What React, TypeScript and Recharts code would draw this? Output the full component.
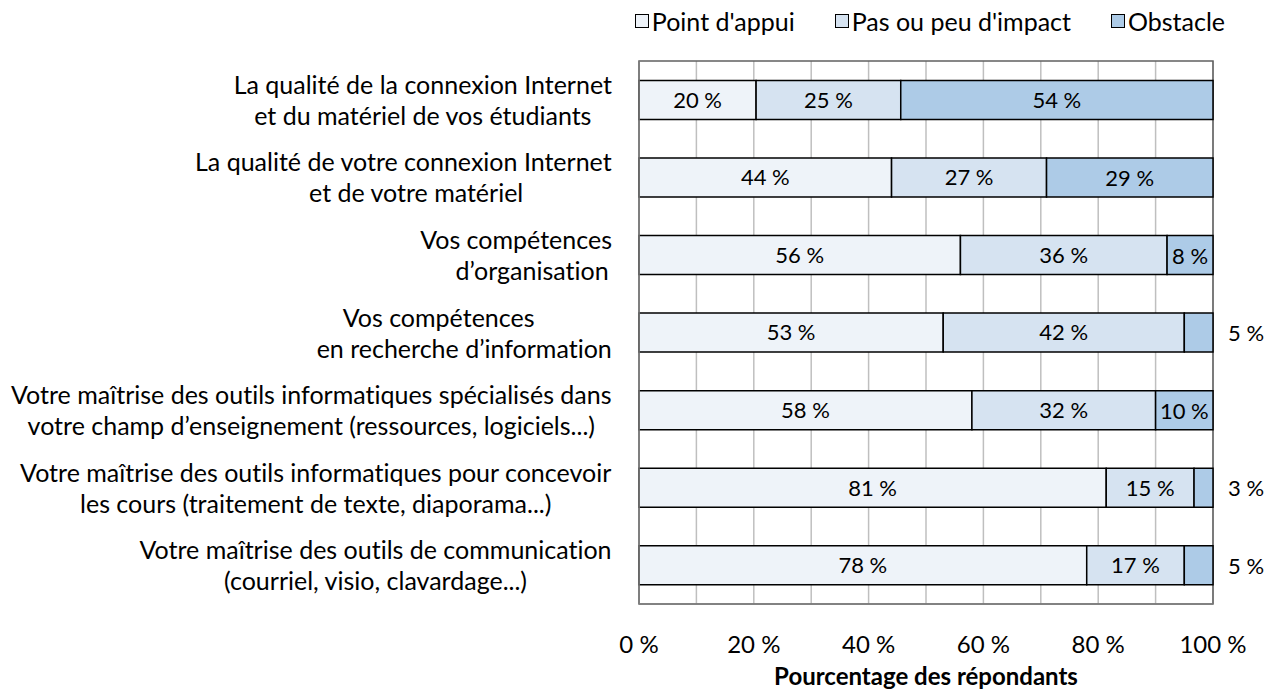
import { BarChart, Bar, XAxis, YAxis, CartesianGrid, Legend, LabelList, ReferenceArea } from 'recharts'

const FONT = 'Lato, "Noto Sans", sans-serif'
const CAT_SIZE = 25
const VAL_SIZE = 22
const TICK_SIZE = 24
const LEGEND_SIZE = 25
const TITLE_SIZE = 24

const NB = '\u00a0'

// category labels, two lines each (manual breaks and padding as in the source chart)
const CATEGORY_LINES: string[][] = [
  ['La qualité de la connexion Internet', 'et du matériel de vos étudiants'],
  ['La qualité de votre connexion Internet', NB.repeat(4) + 'et de votre matériel'],
  ['Vos compétences', NB.repeat(5) + 'd’organisation'],
  ['Vos compétences' + NB.repeat(8), 'en recherche d’information'],
  ['Votre maîtrise des outils informatiques spécialisés dans', 'votre champ d’enseignement (ressources, logiciels...)'],
  ['Votre maîtrise des outils informatiques pour concevoir', 'les cours (traitement de texte, diaporama...)'],
  ['Votre maîtrise des outils de communication', '(courriel, visio, clavardage...)'],
]

const SERIES_NAMES = ["Point d'appui", "Pas ou peu d'impact", 'Obstacle']
const POINT_APPUI = [20.4, 44, 56, 53, 58, 81.4, 78]
const PAS_IMPACT = [25.2, 27, 36, 42, 32, 15.3, 17]
const OBSTACLE = [54.4, 29, 8, 5, 10, 3.3, 5]

const GRID_TICKS = [0, 10, 20, 30, 40, 50, 60, 70, 80, 90, 100]

const COLORS = ['#EEF3F9', '#D6E3F1', '#ADCBE7']

const data = CATEGORY_LINES.map((lines, i) => ({
  name: lines.join('\n'),
  appui: POINT_APPUI[i],
  pas: PAS_IMPACT[i],
  obstacle: OBSTACLE[i],
}))

let measureCtx: CanvasRenderingContext2D | null = null
function textWidth(s: string): number {
  if (!measureCtx) measureCtx = document.createElement('canvas').getContext('2d')
  if (!measureCtx) return s.length * CAT_SIZE * 0.5
  measureCtx.font = `${CAT_SIZE}px ${FONT}`
  return measureCtx.measureText(s).width
}

function CategoryTick(props: any) {
  const { x, y, payload } = props
  const lines: string[] = String(payload.value).split('\n')
  const maxW = Math.max(...lines.map(textWidth))
  const cx = x - 27 - maxW / 2
  return (
    <g>
      {lines.map((l, i) => (
        <text key={i} x={cx} y={y - 6 + i * 31} textAnchor="middle" fontSize={CAT_SIZE} fill="#000">
          {l}
        </text>
      ))}
    </g>
  )
}

const pct = (v: any) => `${Math.round(Number(v))} %`

// small obstacle shares get their label outside the bar, on the right
function ObstacleLabel(props: any) {
  const { x, y, width, height, value } = props
  const small = Number(value) < 6
  return (
    <text
      x={small ? x + width + 15 : x + width / 2}
      y={y + height / 2}
      textAnchor={small ? 'start' : 'middle'}
      dominantBaseline="central"
      fontSize={VAL_SIZE}
      fill="#000"
    >
      {pct(value)}
    </text>
  )
}

// zero-height wrapper so the legend doesn't push the plot down
function LegendBox() {
  return (
    <div style={{ height: 0, overflow: 'visible' }}>
      <div style={{ display: 'flex', justifyContent: 'flex-end', gap: 40, fontSize: LEGEND_SIZE, color: '#000', whiteSpace: 'nowrap' }}>
        {SERIES_NAMES.map((n, i) => (
          <div key={n} style={{ display: 'flex', alignItems: 'center' }}>
            <span
              style={{
                display: 'inline-block',
                width: 12,
                height: 12,
                background: COLORS[i],
                border: '1px solid #000',
                marginRight: 3,
              }}
            />
            {n}
          </div>
        ))}
      </div>
    </div>
  )
}

export default function App() {
  return (
    <div style={{ position: 'absolute', left: 0, top: 0, fontFamily: FONT, fontVariantLigatures: 'none' }}>
      <BarChart
        width={1270}
        height={692}
        data={data}
        layout="vertical"
        barCategoryGap="25%"
        margin={{ top: 61, right: 57, left: 0, bottom: 0 }}
      >
        <CartesianGrid horizontal={false} stroke="#bfbfbf" strokeWidth={1.5} />
        <XAxis
          type="number"
          domain={[0, 100]}
          ticks={GRID_TICKS}
          interval={0}
          tickFormatter={(v: number) => (v % 20 === 0 ? `${v} %` : '')}
          tick={{ fontSize: TICK_SIZE, fill: '#000' }}
          tickLine={false}
          tickSize={0}
          tickMargin={32}
          axisLine={{ stroke: '#808080', strokeWidth: 1.5 }}
          height={88}
          label={{
            value: 'Pourcentage des répondants',
            position: 'insideBottom',
            offset: 7,
            style: { fontSize: TITLE_SIZE, fontWeight: 700, fill: '#000' },
          }}
        />
        <YAxis
          type="category"
          dataKey="name"
          width={639}
          tick={<CategoryTick />}
          tickLine={false}
          tickSize={0}
          tickMargin={0}
          interval={0}
          axisLine={{ stroke: '#808080', strokeWidth: 1.5 }}
        />
        <ReferenceArea x1={0} x2={100} fill="none" stroke="#606060" strokeWidth={1.5} />
        <Legend verticalAlign="top" content={<LegendBox />} wrapperStyle={{ top: 6, left: 520, width: 705 }} />
        <Bar dataKey="appui" name={SERIES_NAMES[0]} stackId="s" fill={COLORS[0]} stroke="#000" strokeWidth={1.5} isAnimationActive={false}>
          <LabelList dataKey="appui" position="center" formatter={pct} fontSize={VAL_SIZE} fill="#000" />
        </Bar>
        <Bar dataKey="pas" name={SERIES_NAMES[1]} stackId="s" fill={COLORS[1]} stroke="#000" strokeWidth={1.5} isAnimationActive={false}>
          <LabelList dataKey="pas" position="center" formatter={pct} fontSize={VAL_SIZE} fill="#000" />
        </Bar>
        <Bar dataKey="obstacle" name={SERIES_NAMES[2]} stackId="s" fill={COLORS[2]} stroke="#000" strokeWidth={1.5} isAnimationActive={false}>
          <LabelList dataKey="obstacle" content={<ObstacleLabel />} />
        </Bar>
      </BarChart>
    </div>
  )
}
